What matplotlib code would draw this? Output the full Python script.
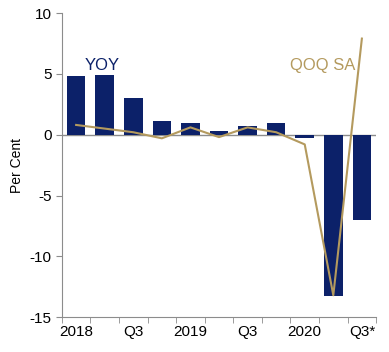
import numpy as np
import matplotlib
matplotlib.use('Agg')
import matplotlib.pyplot as plt

plt.rcParams['font.family'] = ['Liberation Sans', 'DejaVu Sans']
plt.rcParams['axes.unicode_minus'] = False

# quarterly data, 2018 Q1 .. 2020 Q3
quarters = ['2018', 'Q2', 'Q3', 'Q4', '2019', 'Q2', 'Q3', 'Q4', '2020', 'Q2', 'Q3*']
yoy = [4.8, 4.9, 3.0, 1.1, 1.0, 0.3, 0.7, 1.0, -0.3, -13.3, -7.0]
qoq_sa = [0.8, 0.5, 0.2, -0.3, 0.6, -0.2, 0.6, 0.2, -0.8, -13.2, 7.9]

bar_color = '#0c2169'
line_color = '#b49a5e'
axis_color = '#8c8c8c'

fig = plt.figure(figsize=(3.89, 3.52), dpi=100)
ax = fig.add_axes([0.159, 0.099, 0.808, 0.864])

x = np.arange(len(quarters))
ax.bar(x, yoy, width=0.65, color=bar_color, zorder=2)
ax.plot(x, qoq_sa, color=line_color, lw=1.5, zorder=3)
ax.axhline(0, color=axis_color, lw=1, zorder=1)

ax.set_xlim(-0.5, len(quarters) - 0.5)
ax.set_ylim(-15, 10)
ax.set_yticks([-15, -10, -5, 0, 5, 10])

# labels every other quarter, ticks on quarter boundaries
ax.set_xticks(x[::2])
ax.set_xticklabels(quarters[::2])
ax.tick_params(axis='x', which='major', length=0, pad=6, labelsize=11)
ax.set_xticks(np.arange(-0.5, len(quarters)), minor=True)
ax.tick_params(axis='x', which='minor', length=4, color=axis_color)
ax.tick_params(axis='y', length=4, color=axis_color, labelsize=11)

for s in ['top', 'right']:
    ax.spines[s].set_visible(False)
for s in ['left', 'bottom']:
    ax.spines[s].set_color(axis_color)

ax.set_ylabel('Per Cent', fontsize=10)

ax.text(0.3, 5.3, 'YOY', color=bar_color, fontsize=12)
ax.text(7.5, 5.3, 'QOQ SA', color=line_color, fontsize=12)

fig.savefig('out.png', dpi=100)
